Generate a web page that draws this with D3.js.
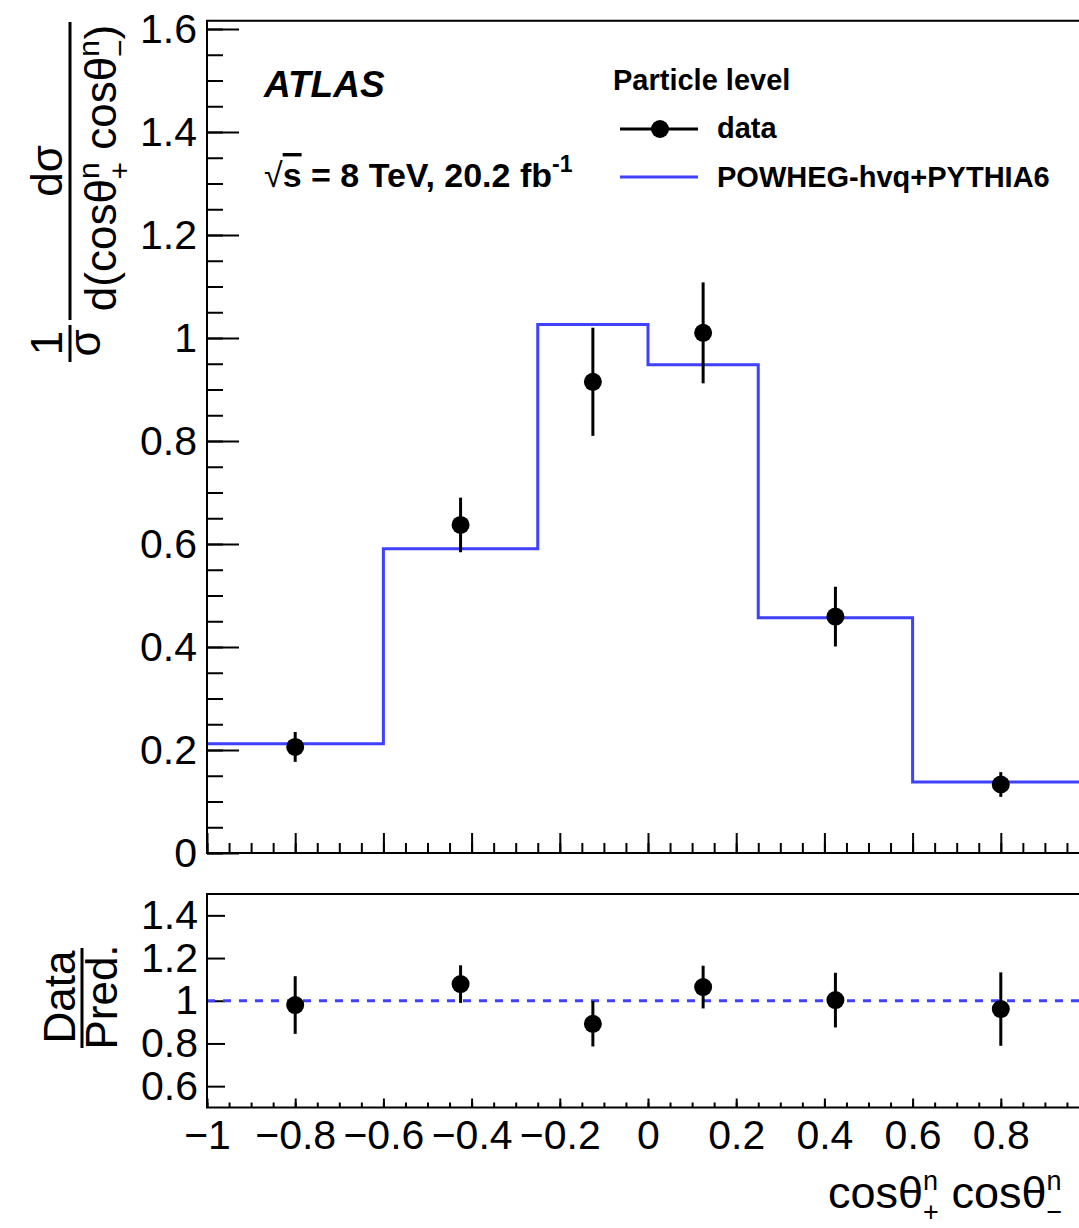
<!DOCTYPE html>
<html>
<head>
<meta charset="utf-8">
<script src="https://cdn.jsdelivr.net/npm/d3@7"></script>
<style>
  body { margin: 0; background: #fff; }
  svg { display: block; font-family: "Liberation Sans", Arial, Helvetica, sans-serif; }
  .tick text { font-family: "Liberation Sans", Arial, sans-serif; }
</style>
</head>
<body>
<div id="chart"></div>
<script>
// bin edges of cos(theta+) cos(theta-)
const binEdges = [-1, -0.6, -0.25, 0, 0.25, 0.6, 1];
// normalised cross section, data and prediction
const dataValues = [0.206, 0.637, 0.915, 1.010, 0.459, 0.133];
const dataErrors = [0.029, 0.053, 0.105, 0.098, 0.058, 0.024];
const predValues = [0.212, 0.591, 1.026, 0.948, 0.457, 0.138];
// ratio panel
const ratioValues = [0.980, 1.078, 0.892, 1.064, 1.003, 0.961];
const ratioErrors = [0.135, 0.088, 0.106, 0.100, 0.128, 0.172];

const xTicks = [-1, -0.8, -0.6, -0.4, -0.2, 0, 0.2, 0.4, 0.6, 0.8, 1];
const xTickLabels = [-1, -0.8, -0.6, -0.4, -0.2, 0, 0.2, 0.4, 0.6, 0.8];
const yMainTicks = [0, 0.2, 0.4, 0.6, 0.8, 1, 1.2, 1.4, 1.6];
const yRatioTicks = [0.6, 0.8, 1, 1.2, 1.4];

const width = 1079, height = 1228;
const blue = "#4040ff";

const svg = d3.select("#chart").append("svg")
    .attr("width", width)
    .attr("height", height);

svg.append("rect").attr("width", width).attr("height", height).attr("fill", "#fff");

// scales
const x = d3.scaleLinear().domain([-1, 1]).range([207, 1089]);
const yMain = d3.scaleLinear().domain([0, 1.6]).range([853, 29]);
const yMainTop = 1.616;
const yRatio = d3.scaleLinear().domain([0.5, 1.5]).range([1107.5, 894]);

const centers = binEdges.slice(0, -1).map((e, i) => (e + binEdges[i + 1]) / 2);

function minorTicks(lo, hi, step) {
    const out = [];
    for (let i = 0; lo + i * step <= hi + 1e-9; i++) out.push(+(lo + i * step).toFixed(4));
    return out;
}

// ---------- main panel ----------
const main = svg.append("g");

main.append("g")
    .attr("transform", `translate(0,${yMain(0)})`)
    .call(d3.axisBottom(x).tickValues(minorTicks(-1, 1, 0.05)).tickSize(-10).tickSizeOuter(0).tickFormat(""));
main.append("g")
    .attr("transform", `translate(0,${yMain(0)})`)
    .call(d3.axisBottom(x).tickValues(xTicks).tickSize(-20).tickSizeOuter(0).tickFormat(""));

main.append("g")
    .attr("transform", `translate(${x(-1)},0)`)
    .call(d3.axisLeft(yMain).tickValues(minorTicks(0, 1.6, 0.05)).tickSize(-16).tickSizeOuter(0).tickFormat(""));
main.append("g")
    .attr("class", "ymain")
    .attr("transform", `translate(${x(-1)},0)`)
    .call(d3.axisLeft(yMain).tickValues(yMainTicks).tickSize(-32).tickSizeOuter(0).tickPadding(10)
        .tickFormat(d3.format("")));

// step histogram prediction
const stepPts = predValues.map((v, i) => [binEdges[i], v]);
stepPts.push([binEdges[binEdges.length - 1], predValues[predValues.length - 1]]);
main.append("path")
    .datum(stepPts)
    .attr("fill", "none")
    .attr("stroke", blue)
    .attr("stroke-width", 3)
    .attr("d", d3.line().x(d => x(d[0])).y(d => yMain(d[1])).curve(d3.curveStepAfter));

// data points
main.selectAll(".err").data(dataValues).enter().append("line")
    .attr("x1", (d, i) => x(centers[i])).attr("x2", (d, i) => x(centers[i]))
    .attr("y1", (d, i) => yMain(d - dataErrors[i])).attr("y2", (d, i) => yMain(d + dataErrors[i]))
    .attr("stroke", "#000").attr("stroke-width", 3);
main.selectAll(".pt").data(dataValues).enter().append("circle")
    .attr("cx", (d, i) => x(centers[i])).attr("cy", d => yMain(d)).attr("r", 9).attr("fill", "#000");

main.append("rect")
    .attr("x", x(-1)).attr("y", yMain(yMainTop))
    .attr("width", x(1) - x(-1)).attr("height", yMain(0) - yMain(yMainTop))
    .attr("fill", "none").attr("stroke", "#000").attr("stroke-width", 2);

// ---------- ratio panel ----------
const ratio = svg.append("g");

ratio.append("g")
    .attr("transform", `translate(0,${yRatio(0.5)})`)
    .call(d3.axisBottom(x).tickValues(minorTicks(-1, 1, 0.05)).tickSize(-5).tickSizeOuter(0).tickFormat(""));
ratio.append("g")
    .attr("transform", `translate(0,${yRatio(0.5)})`)
    .call(d3.axisBottom(x).tickValues(xTicks).tickSize(-9).tickSizeOuter(0).tickFormat(""));
ratio.append("g")
    .attr("class", "xratio")
    .attr("transform", `translate(0,${yRatio(0.5)})`)
    .call(d3.axisBottom(x).tickValues(xTickLabels).tickSize(0).tickSizeOuter(0).tickPadding(12)
        .tickFormat(d3.format("")));

ratio.append("g")
    .attr("class", "yratio")
    .attr("transform", `translate(${x(-1)},0)`)
    .call(d3.axisLeft(yRatio).tickValues(yRatioTicks).tickSize(-18).tickSizeOuter(0).tickPadding(9)
        .tickFormat(d3.format("")));

ratio.append("line")
    .attr("x1", x(-1)).attr("x2", x(1))
    .attr("y1", yRatio(1)).attr("y2", yRatio(1))
    .attr("stroke", blue).attr("stroke-width", 3).attr("stroke-dasharray", "8,8");

ratio.selectAll(".rerr").data(ratioValues).enter().append("line")
    .attr("x1", (d, i) => x(centers[i])).attr("x2", (d, i) => x(centers[i]))
    .attr("y1", (d, i) => yRatio(d - ratioErrors[i])).attr("y2", (d, i) => yRatio(d + ratioErrors[i]))
    .attr("stroke", "#000").attr("stroke-width", 3);
ratio.selectAll(".rpt").data(ratioValues).enter().append("circle")
    .attr("cx", (d, i) => x(centers[i])).attr("cy", d => yRatio(d)).attr("r", 9).attr("fill", "#000");

ratio.append("rect")
    .attr("x", x(-1)).attr("y", yRatio(1.5))
    .attr("width", x(1) - x(-1)).attr("height", yRatio(0.5) - yRatio(1.5))
    .attr("fill", "none").attr("stroke", "#000").attr("stroke-width", 2);

// axis styling
svg.selectAll(".domain").remove();
svg.selectAll(".tick line").attr("stroke", "#000").attr("stroke-width", 2);
svg.selectAll(".ymain .tick text, .yratio .tick text, .xratio .tick text")
    .style("font-size", "41px").attr("fill", "#000");

// ---------- titles ----------
const ytitle = svg.append("g").attr("transform", "rotate(-90)")
    .style("font-size", "44px");
// 1/sigma
ytitle.append("text").attr("x", -343).attr("y", 62).attr("text-anchor", "middle").text("1");
ytitle.append("line").attr("x1", -325).attr("x2", -362).attr("y1", 70).attr("y2", 70)
    .attr("stroke", "#000").attr("stroke-width", 3);
ytitle.append("text").attr("x", -343).attr("y", 100).attr("text-anchor", "middle").text("σ");
// d sigma / d(...)
ytitle.append("text").attr("x", -171).attr("y", 62).attr("text-anchor", "middle").text("dσ");
ytitle.append("line").attr("x1", -22).attr("x2", -320).attr("y1", 70).attr("y2", 70)
    .attr("stroke", "#000").attr("stroke-width", 3);
const den = ytitle.append("text").attr("x", -168).attr("y", 116).attr("text-anchor", "middle");
den.append("tspan").text("d(cosθ");
den.append("tspan").attr("dy", -17).style("font-size", "30px").text("n");
den.append("tspan").attr("dx", -17).attr("dy", 31).style("font-size", "30px").text("+");
den.append("tspan").attr("dy", -14).text(" cosθ");
den.append("tspan").attr("dy", -17).style("font-size", "30px").text("n");
den.append("tspan").attr("dx", -17).attr("dy", 31).style("font-size", "30px").text("−");
den.append("tspan").attr("dy", -14).text(")");

const rtitle = svg.append("g").attr("transform", "rotate(-90)")
    .style("font-size", "44px");
rtitle.append("text").attr("x", -997).attr("y", 75).attr("text-anchor", "middle").text("Data");
rtitle.append("line").attr("x1", -948).attr("x2", -1048).attr("y1", 82).attr("y2", 82)
    .attr("stroke", "#000").attr("stroke-width", 3);
rtitle.append("text").attr("x", -997).attr("y", 117).attr("text-anchor", "middle").text("Pred.");

// x title
const xt = svg.append("text").attr("x", 828).attr("y", 1208).style("font-size", "45px");
xt.append("tspan").text("cosθ");
xt.append("tspan").attr("dy", -18).style("font-size", "27px").text("n");
xt.append("tspan").attr("dx", -15).attr("dy", 31).style("font-size", "27px").text("+");
xt.append("tspan").attr("dy", -13).text(" cosθ");
xt.append("tspan").attr("dy", -18).style("font-size", "27px").text("n");
xt.append("tspan").attr("dx", -15).attr("dy", 31).style("font-size", "27px").text("−");

// labels
svg.append("text").attr("x", 264).attr("y", 97)
    .style("font-size", "37px").style("font-weight", "bold").style("font-style", "italic")
    .text("ATLAS");
const lumi = svg.append("text").attr("x", 264).attr("y", 187)
    .style("font-size", "34px").style("font-weight", "bold");
lumi.append("tspan").style("font-weight", "normal").text("√");
lumi.append("tspan").style("text-decoration", "overline").text("s");
lumi.append("tspan").text(" = 8 TeV, 20.2 fb");
lumi.append("tspan").attr("dy", -15).style("font-size", "23px").text("-1");

// legend
const leg = svg.append("g").style("font-weight", "bold").style("font-size", "29px");
leg.append("text").attr("x", 613).attr("y", 90).text("Particle level");
leg.append("line").attr("x1", 620).attr("x2", 698).attr("y1", 129).attr("y2", 129)
    .attr("stroke", "#000").attr("stroke-width", 3);
leg.append("circle").attr("cx", 660).attr("cy", 129).attr("r", 9).attr("fill", "#000");
leg.append("text").attr("x", 717).attr("y", 138).text("data");
leg.append("line").attr("x1", 620).attr("x2", 698).attr("y1", 177).attr("y2", 177)
    .attr("stroke", blue).attr("stroke-width", 3);
leg.append("text").attr("x", 717).attr("y", 187).text("POWHEG-hvq+PYTHIA6");
</script>
</body>
</html>
